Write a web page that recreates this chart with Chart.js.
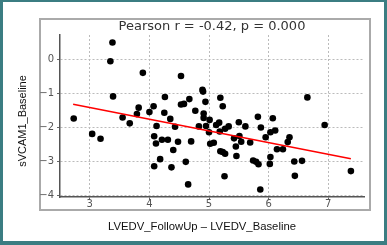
<!DOCTYPE html>
<html>
<head>
<meta charset="utf-8">
<script src="https://cdn.jsdelivr.net/npm/chart.js@4"></script>
<style>
	body { margin: 0; background: #fff; }
	canvas { display: block; }
</style>
</head>
<body>
<canvas id="pearson-chart" width="387" height="245"></canvas>
<script>
var xValues = [2.73, 3.04, 3.18, 3.345, 3.38, 3.39, 3.55, 3.67, 3.79, 3.82, 3.89, 4.00, 4.07, 4.08, 4.08, 4.11, 4.12, 4.18, 4.21, 4.25,
	4.26, 4.31, 4.35, 4.37, 4.40, 4.43, 4.48, 4.53, 4.53, 4.58, 4.61, 4.65, 4.67, 4.70, 4.77, 4.83, 4.89, 4.90, 4.91, 4.94,
	4.91, 4.95, 5.01, 5.00, 5.02, 5.08, 5.12, 5.17, 5.18, 5.19, 5.23, 5.19, 5.23, 5.27, 5.27, 5.33, 5.26, 5.42, 5.45, 5.46,
	5.50, 5.51, 5.54, 5.61, 5.69, 5.74, 5.79, 5.83, 5.82, 5.86, 5.87, 5.95, 6.02, 6.03, 6.03, 6.07, 6.11, 6.14, 6.24, 6.32,
	6.35, 6.43, 6.44, 6.56, 6.65, 6.94, 7.38];
var yValues = [-1.74, -2.19, -2.33, -0.06, 0.49, -1.09, -1.71, -1.88, -1.61, -1.42, -0.40, -1.55, -1.38, -2.26, -3.14, -2.47, -1.96, -2.93, -2.36, -1.57,
	-1.11, -2.36, -1.75, -3.17, -2.66, -1.98, -2.42, -0.49, -1.33, -1.31, -3.01, -3.67, -1.17, -2.41, -1.51, -1.97, -0.90, -0.95, -1.59, -1.25,
	-1.72, -1.96, -1.78, -2.14, -2.48, -2.45, -1.93, -1.86, -2.12, -1.13, -1.38, -2.70, -2.72, -2.77, -2.04, -1.97, -3.43, -2.32, -2.56, -2.84,
	-1.85, -2.25, -2.42, -1.97, -2.44, -2.97, -3.01, -3.08, -1.69, -3.82, -2.00, -2.29, -3.07, -2.87, -2.14, -1.73, -2.09, -2.64, -2.64, -2.43,
	-2.29, -3.00, -3.42, -2.98, -1.12, -1.93, -3.28];

var fitX = [2.72, 7.38];
var fitY = [-1.32, -2.92];

var xTicks = [3, 4, 5, 6, 7];
var yTicks = [0, -1, -2, -3, -4];

var chartTitle = 'Pearson r = -0.42, p = 0.000';
var xLabel = 'LVEDV_FollowUp \u2013 LVEDV_Baseline';
var yLabel = 'sVCAM1_Baseline';

var points = xValues.map(function (x, i) {
	return { x: x, y: yValues[i] };
});
var fitLine = fitX.map(function (x, i) {
	return { x: x, y: fitY[i] };
});

var figureFrame = {
	id: 'figureFrame',
	beforeDraw: function (chart) {
		var ctx = chart.ctx;
		ctx.save();
		ctx.fillStyle = '#3b7d82';
		ctx.fillRect(0, 0, chart.width, chart.height);
		ctx.fillStyle = '#ffffff';
		ctx.fillRect(3, 2, 381, 239);
		ctx.strokeStyle = '#aaaaaa';
		ctx.lineWidth = 2;
		ctx.strokeRect(40, 19, 330, 191);
		ctx.restore();
	},
	afterDraw: function (chart) {
		var ctx = chart.ctx;
		ctx.save();
		ctx.textAlign = 'center';
		ctx.textBaseline = 'middle';
		ctx.fillStyle = '#333333';
		ctx.font = '13px "DejaVu Sans"';
		ctx.fillText(chartTitle, 212, 27);

		ctx.fillStyle = '#111111';
		ctx.font = '11.3px "Liberation Sans"';
		ctx.fillText(xLabel, 202, 227);

		ctx.translate(23, 121);
		ctx.rotate(-Math.PI / 2);
		ctx.font = '11px "Liberation Sans"';
		ctx.fillText(yLabel, 0, 0);
		ctx.restore();
	}
};

new Chart('pearson-chart', {
	type: 'scatter',
	data: {
		datasets: [
			{
				type: 'line',
				data: fitLine,
				borderColor: '#ff0000',
				borderWidth: 1.5,
				pointRadius: 0,
				fill: false,
				order: 0
			},
			{
				data: points,
				backgroundColor: '#000000',
				borderWidth: 0,
				pointRadius: 3.3,
				order: 1
			}
		]
	},
	options: {
		responsive: false,
		animation: false,
		layout: {
			padding: { left: 40, right: 23, top: 35, bottom: 28 }
		},
		plugins: {
			legend: { display: false },
			tooltip: { enabled: false }
		},
		scales: {
			x: {
				type: 'linear',
				min: 2.5,
				max: 7.6,
				afterFit: function (scale) { scale.height = 20; },
				afterBuildTicks: function (scale) {
					scale.ticks = xTicks.map(function (v) { return { value: v }; });
				},
				grid: { color: '#bbbbbb', tickColor: '#666666', tickLength: 3, lineWidth: 1 },
				border: { color: '#555555', width: 1.5, dash: [2, 2] },
				ticks: { color: '#555555', padding: -2, font: { family: 'DejaVu Sans', size: 10 } }
			},
			y: {
				min: -4.04,
				max: 0.71,
				afterFit: function (scale) { scale.width = 20; },
				afterBuildTicks: function (scale) {
					scale.ticks = yTicks.map(function (v) { return { value: v }; });
				},
				grid: { color: '#bbbbbb', tickColor: '#666666', tickLength: 3, lineWidth: 1 },
				border: { color: '#555555', width: 1.5, dash: [2, 2] },
				ticks: {
					color: '#555555',
					padding: 3,
					font: { family: 'DejaVu Sans', size: 10 },
					callback: function (v) { return v < 0 ? '\u2212' + Math.abs(v) : v; }
				}
			}
		}
	},
	plugins: [figureFrame]
});
</script>
</body>
</html>
